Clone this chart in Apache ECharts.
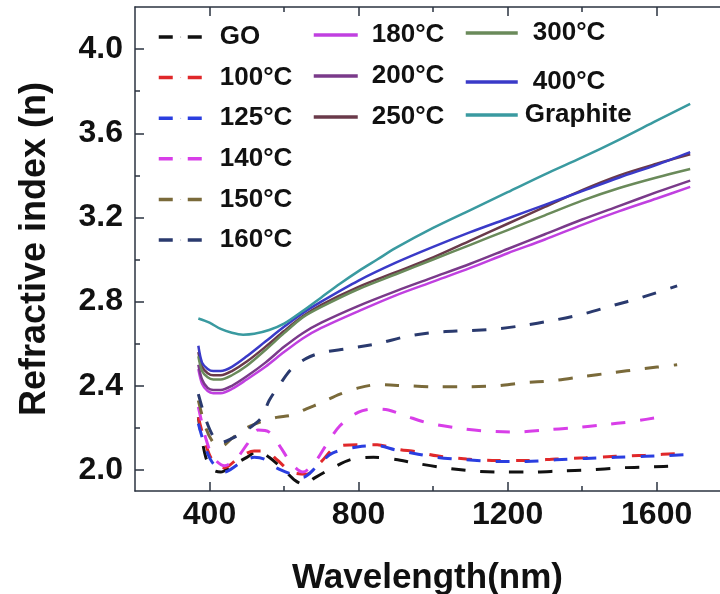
<!DOCTYPE html>
<html>
<head>
<meta charset="utf-8">
<script src="https://cdn.jsdelivr.net/npm/echarts@6/dist/echarts.min.js"></script>
<style>
html, body { margin: 0; padding: 0; background: #fff; }
#chart { width: 720px; height: 594px; }
</style>
</head>
<body>
<div id="chart"></div>
<script>
// wavelength (nm), refractive index n
var GO = [[370,2.25],[390,2.06],[410,2.0],[430,1.99],[460,2.02],[500,2.06],[530,2.09],[560,2.06],[600,2.0],[630,1.95],[655,1.93],[680,1.96],[720,2.0],[780,2.05],[840,2.06],[900,2.05],[950,2.033],[1030,2.01],[1110,1.995],[1190,1.99],[1270,1.99],[1340,1.995],[1420,2.0],[1500,2.01],[1580,2.014],[1670,2.02]];
var T100 = [[370,2.25],[390,2.12],[410,2.04],[440,2.01],[480,2.06],[520,2.09],[550,2.09],[580,2.05],[620,1.99],[660,1.98],[700,2.04],[740,2.11],[800,2.12],[850,2.12],[900,2.10],[960,2.085],[1010,2.067],[1090,2.052],[1170,2.045],[1250,2.045],[1330,2.052],[1410,2.058],[1490,2.065],[1570,2.07],[1675,2.08]];
var T125 = [[370,2.22],[390,2.10],[410,2.03],[440,1.99],[480,2.03],[520,2.06],[550,2.05],[580,2.01],[620,1.98],[650,1.965],[690,2.02],[730,2.08],[800,2.11],[850,2.115],[900,2.095],[960,2.075],[1010,2.06],[1090,2.048],[1170,2.04],[1250,2.04],[1330,2.048],[1410,2.055],[1490,2.06],[1570,2.065],[1675,2.072]];
var T140 = [[370,2.30],[390,2.15],[410,2.06],[440,2.02],[470,2.05],[500,2.12],[530,2.19],[560,2.18],[590,2.11],[620,2.03],[650,1.99],[680,2.03],[710,2.11],[750,2.21],[800,2.275],[840,2.29],[880,2.285],[930,2.255],[984,2.224],[1064,2.20],[1140,2.185],[1220,2.18],[1300,2.19],[1376,2.20],[1454,2.214],[1534,2.23],[1620,2.255]];
var T150 = [[370,2.33],[390,2.20],[410,2.13],[430,2.11],[460,2.15],[500,2.20],[540,2.23],[580,2.25],[620,2.26],[660,2.29],[700,2.32],[750,2.36],[800,2.39],[850,2.405],[930,2.40],[1010,2.395],[1090,2.395],[1170,2.40],[1240,2.414],[1320,2.424],[1400,2.443],[1480,2.462],[1560,2.48],[1655,2.50]];
var T160 = [[370,2.36],[390,2.24],[410,2.16],[430,2.13],[460,2.15],[500,2.19],[540,2.25],[560,2.33],[590,2.41],[620,2.48],[660,2.53],[700,2.557],[770,2.576],[850,2.60],[930,2.635],[1010,2.655],[1090,2.662],[1170,2.67],[1240,2.686],[1320,2.71],[1400,2.74],[1480,2.78],[1560,2.82],[1655,2.875]];
var T180 = [[370,2.48],[380,2.41],[395,2.375],[410,2.365],[430,2.365],[460,2.385],[500,2.43],[550,2.49],[600,2.56],[650,2.625],[700,2.675],[800,2.755],[900,2.83],[1000,2.895],[1100,2.96],[1200,3.03],[1300,3.095],[1400,3.165],[1500,3.23],[1600,3.29],[1690,3.345]];
var T200 = [[370,2.50],[380,2.43],[395,2.39],[410,2.38],[430,2.38],[460,2.40],[500,2.445],[550,2.51],[600,2.585],[650,2.65],[700,2.70],[800,2.78],[900,2.85],[1000,2.915],[1100,2.98],[1200,3.05],[1300,3.12],[1400,3.19],[1500,3.255],[1600,3.32],[1690,3.375]];
var T250 = [[370,2.56],[380,2.49],[395,2.46],[410,2.45],[430,2.45],[460,2.47],[500,2.515],[550,2.585],[600,2.66],[650,2.73],[700,2.785],[800,2.87],[900,2.94],[1000,3.01],[1100,3.09],[1200,3.17],[1300,3.25],[1400,3.33],[1500,3.40],[1600,3.455],[1690,3.50]];
var T300 = [[370,2.54],[380,2.47],[395,2.44],[410,2.43],[430,2.43],[460,2.45],[500,2.495],[550,2.57],[600,2.65],[650,2.725],[700,2.775],[800,2.86],[900,2.93],[1000,3.00],[1100,3.07],[1200,3.14],[1300,3.21],[1400,3.28],[1500,3.34],[1600,3.39],[1690,3.43]];
var T400 = [[370,2.59],[380,2.51],[395,2.48],[410,2.47],[430,2.47],[460,2.49],[500,2.54],[550,2.61],[600,2.68],[650,2.745],[700,2.80],[800,2.90],[900,2.985],[1000,3.06],[1100,3.13],[1200,3.195],[1300,3.26],[1400,3.325],[1500,3.39],[1600,3.45],[1690,3.51]];
var Graphite = [[370,2.72],[400,2.70],[430,2.67],[460,2.652],[490,2.643],[520,2.647],[560,2.665],[600,2.695],[650,2.755],[700,2.82],[750,2.885],[800,2.945],[850,3.0],[900,3.055],[1000,3.15],[1100,3.235],[1200,3.32],[1300,3.405],[1400,3.485],[1500,3.57],[1600,3.66],[1690,3.74]];

var xMajor = [400, 800, 1200, 1600];
var xMinor = [600, 1000, 1400];
var yMajor = [2.0, 2.4, 2.8, 3.2, 3.6, 4.0];
var yMinor = [2.2, 2.6, 3.0, 3.4, 3.8];

var names = ['GO', '100°C', '125°C', '140°C', '150°C', '160°C', '180°C', '200°C', '250°C', '300°C', '400°C', 'Graphite'];
var dataList = [GO, T100, T125, T140, T150, T160, T180, T200, T250, T300, T400, Graphite];
var colors = ['#111111', '#e0282a', '#2a3ee0', '#d83ee8', '#7a6a3a', '#2a3a6e', '#c040e0', '#7a3a8a', '#6a3a4a', '#6a8a5a', '#3a3ac8', '#3a9aa0'];
var dashed = [true, true, true, true, true, true, false, false, false, false, false, false];

var font = 'Liberation Sans, Arial, sans-serif';
var axisColor = '#2b3340';

var series = names.map(function (n, i) {
    return {
        name: n,
        type: 'line',
        data: dataList[i],
        symbol: 'none',
        smooth: 0.3,
        color: colors[i],
        lineStyle: {
            width: dashed[i] ? 3 : 2.5,
            type: dashed[i] ? [14, 15] : 'solid',
            color: colors[i]
        },
        z: dashed[i] ? 2 : 3
    };
});

function xAx(pos, ticks, len, showLine, label) {
    return {
        type: 'value', min: 200, max: 1770, position: pos,
        axisLine: { show: showLine, onZero: false, lineStyle: { color: axisColor, width: 1.5 } },
        axisTick: { show: true, inside: true, length: len, customValues: ticks, lineStyle: { color: axisColor, width: 1.5 } },
        axisLabel: label ? { show: true, customValues: xMajor, margin: 8, color: '#111', fontSize: 32, fontWeight: 'bold', fontFamily: font,
            formatter: function (v) { return String(v); } } : { show: false },
        splitLine: { show: false }
    };
}
function yAx(ticks, len, showLine, label) {
    return {
        type: 'value', min: 1.9, max: 4.2, position: 'left',
        axisLine: { show: showLine, onZero: false, lineStyle: { color: axisColor, width: 1.5 } },
        axisTick: { show: true, inside: true, length: len, customValues: ticks, lineStyle: { color: axisColor, width: 1.5 } },
        axisLabel: label ? { show: true, customValues: yMajor, margin: 12, color: '#111', fontSize: 32, fontWeight: 'bold', fontFamily: font,
            formatter: function (v) { return v.toFixed(1); } } : { show: false },
        splitLine: { show: false }
    };
}

var xBottom = xAx('bottom', xMajor, 9, true, true);
xBottom.name = 'Wavelength(nm)';
xBottom.nameLocation = 'middle';
xBottom.nameGap = 70;
xBottom.nameTextStyle = { color: '#111', fontSize: 35, fontWeight: 'bold', fontFamily: font };

var yLeft = yAx(yMajor, 9, true, true);
yLeft.name = 'Refractive index (n)';
yLeft.nameLocation = 'middle';
yLeft.nameGap = 82;
yLeft.nameTextStyle = { color: '#111', fontSize: 36, fontWeight: 'bold', fontFamily: font };

var legTxt = { color: '#111', fontSize: 26, fontWeight: 'bold', fontFamily: font, lineHeight: 30 };
function leg(data, left, top, gap, w, pad) {
    return {
        data: data, orient: 'vertical', left: left, top: top, padding: 0,
        itemGap: gap, itemWidth: w, itemHeight: 1, selectedMode: false,
        lineStyle: { width: 3.5 },
        textStyle: Object.assign({ padding: [0, 0, 0, pad] }, legTxt)
    };
}

var option = {
    animation: false,
    backgroundColor: '#fff',
    grid: { left: 135, right: 0, top: 7, bottom: 103, outerBoundsMode: 'none' },
    legend: [
        leg(names.slice(0, 6), 157, 22, 10.6, 44, 12),
        leg(names.slice(6, 9), 312, 20, 11, 44, 9),
        leg(['300°C'], 464, 18, 0, 52, 10),
        leg(['400°C'], 464, 67, 0, 52, 10),
        leg(['Graphite'], 464, 100, 0, 52, 2)
    ],
    xAxis: [xBottom, xAx('bottom', xMinor, 5, false, false), xAx('top', xMajor, 9, true, false), xAx('top', xMinor, 5, false, false)],
    yAxis: [yLeft, yAx(yMinor, 5, false, false)],
    series: series
};

var chart = echarts.init(document.getElementById('chart'));
chart.setOption(option);
</script>
</body>
</html>
